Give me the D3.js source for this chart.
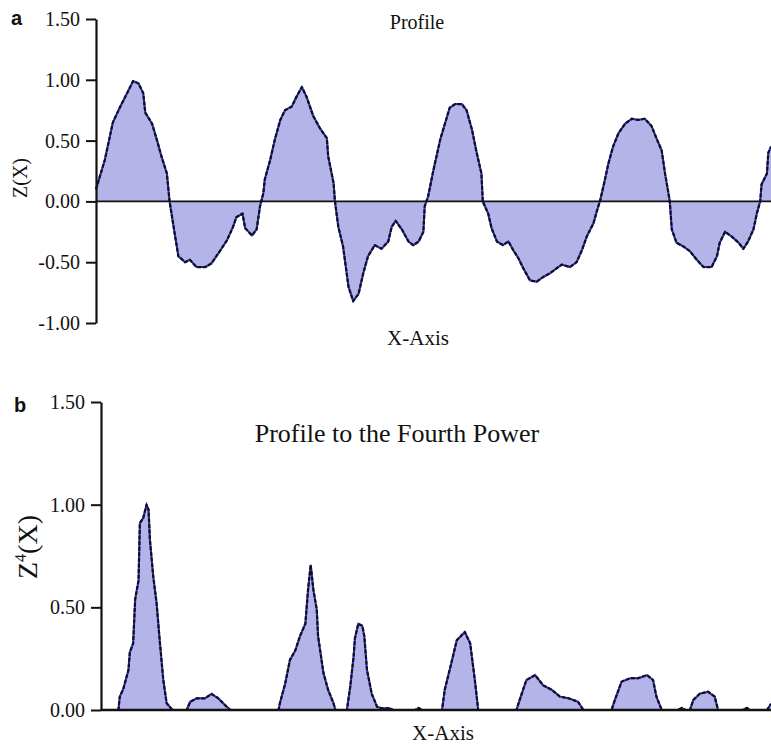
<!DOCTYPE html>
<html>
<head>
<meta charset="utf-8">
<script src="https://cdn.jsdelivr.net/npm/d3@7/dist/d3.min.js"></script>
<style>
  html, body { margin: 0; padding: 0; background: #fff; }
  svg { display: block; }
</style>
</head>
<body>
<svg id="chart" width="771" height="745"></svg>
<script>
// Surface profile Z(X): position along the trace (0–100) and height
const profileX = [0, 1.3, 2.5, 3.6, 4.6, 5.5, 6.3, 7.0, 7.3, 8.3, 9.0, 9.7, 10.5, 10.9, 11.5, 12.2, 13.2, 13.9, 14.9, 16.2, 17.1, 18.1, 19.4, 20.3, 20.8, 21.7, 22.1, 23.1, 23.8, 24.3, 24.8, 25.0, 25.8, 26.5, 27.3, 28.0, 29.0, 29.7, 30.5, 31.2, 32.2, 33.2, 34.2, 34.4, 35.2, 35.4, 35.9, 36.6, 37.4, 38.1, 38.9, 39.6, 40.3, 41.3, 42.3, 43.3, 43.8, 44.4, 45.3, 46.3, 47.0, 47.8, 48.5, 48.7, 49.2, 50.0, 51.0, 51.7, 52.4, 53.2, 54.2, 54.9, 55.7, 56.4, 57.1, 57.3, 58.1, 58.6, 59.4, 60.3, 61.1, 61.8, 62.6, 63.3, 64.3, 65.3, 66.3, 67.3, 68.0, 69.0, 70.2, 71.2, 72.0, 72.7, 73.7, 74.2, 74.7, 75.4, 75.9, 76.6, 77.4, 78.4, 79.4, 80.3, 81.3, 82.3, 83.1, 83.8, 84.3, 84.8, 85.0, 85.3, 86.0, 87.0, 88.0, 89.0, 90.0, 91.2, 92.0, 92.4, 93.2, 94.2, 95.2, 95.9, 96.6, 97.4, 97.9, 98.4, 98.6, 99.4, 99.6, 100];
const profileZ = [0.10, 0.34, 0.65, 0.78, 0.89, 0.99, 0.97, 0.89, 0.73, 0.64, 0.51, 0.37, 0.23, 0.0, -0.21, -0.45, -0.50, -0.48, -0.54, -0.54, -0.51, -0.43, -0.32, -0.21, -0.13, -0.10, -0.22, -0.28, -0.23, -0.04, 0.07, 0.18, 0.34, 0.51, 0.67, 0.75, 0.78, 0.86, 0.94, 0.86, 0.70, 0.60, 0.52, 0.37, 0.15, 0.0, -0.21, -0.37, -0.70, -0.82, -0.76, -0.59, -0.45, -0.36, -0.39, -0.33, -0.21, -0.16, -0.23, -0.33, -0.36, -0.33, -0.25, -0.04, 0.04, 0.26, 0.51, 0.64, 0.77, 0.80, 0.80, 0.75, 0.59, 0.40, 0.23, 0.0, -0.10, -0.22, -0.33, -0.36, -0.33, -0.40, -0.47, -0.55, -0.65, -0.66, -0.62, -0.59, -0.56, -0.52, -0.54, -0.50, -0.40, -0.29, -0.18, -0.08, 0.01, 0.18, 0.31, 0.45, 0.56, 0.64, 0.68, 0.67, 0.68, 0.62, 0.51, 0.42, 0.23, 0.07, 0.0, -0.23, -0.34, -0.37, -0.41, -0.48, -0.54, -0.54, -0.45, -0.34, -0.25, -0.29, -0.34, -0.39, -0.33, -0.23, -0.10, 0.0, 0.14, 0.23, 0.40, 0.45];

// Profile raised to the fourth power, Z^4(X)
const fourthX = [0, 2.6, 2.8, 3.3, 4.1, 4.3, 4.8, 5.1, 5.6, 5.8, 6.3, 6.8, 7.1, 7.3, 7.8, 8.3, 8.8, 9.3, 9.8, 10.6, 10.8, 12.8, 13.3, 14.3, 15.5, 16.5, 17.5, 18.5, 19.3, 26.5, 26.7, 27.5, 28.2, 29.0, 29.7, 30.5, 30.9, 31.3, 31.7, 32.2, 32.4, 33.2, 33.9, 34.7, 35.0, 36.7, 37.2, 37.7, 37.9, 38.4, 39.0, 39.3, 39.7, 40.4, 41.2, 41.9, 43.1, 43.6, 46.9, 47.4, 47.9, 50.9, 51.3, 52.3, 53.1, 54.3, 55.1, 55.8, 56.3, 62.0, 62.8, 63.5, 64.8, 66.0, 67.3, 68.5, 69.8, 71.2, 72.0, 76.2, 76.7, 77.7, 79.0, 80.2, 81.5, 82.4, 82.9, 83.7, 86.1, 86.7, 87.2, 87.9, 88.4, 89.4, 90.6, 91.6, 92.1, 95.8, 96.4, 96.9, 99.4, 100];
const fourthZ = [0, 0, 0.065, 0.10, 0.195, 0.28, 0.325, 0.54, 0.63, 0.91, 0.935, 1.0, 0.975, 0.83, 0.65, 0.52, 0.325, 0.146, 0.033, 0.003, 0, 0, 0.04, 0.057, 0.057, 0.078, 0.057, 0.024, 0, 0, 0.033, 0.13, 0.244, 0.29, 0.36, 0.42, 0.585, 0.707, 0.585, 0.49, 0.36, 0.18, 0.098, 0.033, 0, 0, 0.114, 0.26, 0.35, 0.42, 0.41, 0.36, 0.195, 0.08, 0.016, 0.008, 0.008, 0, 0, 0.01, 0, 0, 0.098, 0.23, 0.34, 0.38, 0.325, 0.146, 0, 0, 0.08, 0.146, 0.17, 0.12, 0.098, 0.065, 0.057, 0.04, 0, 0, 0.049, 0.138, 0.155, 0.155, 0.17, 0.146, 0.065, 0, 0, 0.01, 0, 0, 0.049, 0.08, 0.089, 0.065, 0, 0, 0.01, 0, 0, 0.03];

const topTicks = [-1.0, -0.5, 0.0, 0.5, 1.0, 1.5];
const bottomTicks = [0.0, 0.5, 1.0, 1.5];

const FILL = "#b4b4e8";
const BLUE = "#2b2bd0";
const SERIF = "'Liberation Serif', 'Times New Roman', serif";
const SANS = "'Liberation Sans', Arial, sans-serif";

const svg = d3.select("#chart");
// plain hyphen for negative tick values
const fmt = d3.formatLocale({ decimal: ".", thousands: ",", grouping: [3], currency: ["", ""], minus: "-" }).format(".2f");

function drawTrace(g, xs, ys, x, y) {
  const pts = xs.map((d, i) => [d, ys[i]]);
  const area = d3.area().x(d => x(d[0])).y0(y(0)).y1(d => y(d[1]));
  const line = d3.line().x(d => x(d[0])).y(d => y(d[1]));
  g.append("path").attr("d", area(pts)).attr("fill", FILL);
  g.append("path").attr("d", line(pts)).attr("fill", "none")
    .attr("stroke", BLUE).attr("stroke-width", 2);
  g.append("path").attr("d", line(pts)).attr("fill", "none")
    .attr("stroke", "#111").attr("stroke-width", 2.2)
    .attr("stroke-dasharray", "4,1.6").attr("stroke-linejoin", "round");
}

function styleAxis(g, fs) {
  g.select(".domain").attr("stroke", "#111").attr("stroke-width", 2.2);
  g.selectAll(".tick line").attr("stroke", "#111").attr("stroke-width", 2);
  g.selectAll(".tick text").attr("font-family", SERIF).attr("font-size", fs)
    .attr("fill", "#111");
}

// ---- panel a: profile ----
const xA = d3.scaleLinear().domain([0, 100]).range([96, 771]);
const yA = d3.scaleLinear().domain([-1, 1.5]).range([323, 19]);
const gA = svg.append("g");
drawTrace(gA, profileX, profileZ, xA, yA);
gA.append("line").attr("x1", xA(0)).attr("x2", xA(100))
  .attr("y1", yA(0)).attr("y2", yA(0)).attr("stroke", "#111").attr("stroke-width", 1.6);
const axA = gA.append("g").attr("transform", `translate(${xA(0)},0)`)
  .call(d3.axisLeft(yA).tickValues(topTicks).tickFormat(fmt).tickSize(10).tickSizeOuter(0).tickPadding(6));
styleAxis(axA, 20);

svg.append("text").attr("x", 11).attr("y", 25).attr("font-family", SANS)
  .attr("font-weight", "bold").attr("font-size", 20).attr("fill", "#111").text("a");
svg.append("text").attr("x", 417).attr("y", 29).attr("text-anchor", "middle")
  .attr("font-family", SERIF).attr("font-size", 20).attr("fill", "#111").text("Profile");
svg.append("text").attr("x", 418).attr("y", 345).attr("text-anchor", "middle")
  .attr("font-family", SERIF).attr("font-size", 21).attr("fill", "#111").text("X-Axis");
svg.append("text").attr("transform", "translate(27,178) rotate(-90)")
  .attr("text-anchor", "middle").attr("font-family", SERIF).attr("font-size", 20)
  .attr("fill", "#111").text("Z(X)");

// ---- panel b: fourth power ----
const xB = d3.scaleLinear().domain([0, 100]).range([101, 771]);
const yB = d3.scaleLinear().domain([0, 1.5]).range([710, 402]);
const gB = svg.append("g");
drawTrace(gB, fourthX, fourthZ, xB, yB);
gB.append("line").attr("x1", xB(0)).attr("x2", xB(100))
  .attr("y1", yB(0)).attr("y2", yB(0)).attr("stroke", "#111").attr("stroke-width", 2.4);
const axB = gB.append("g").attr("transform", `translate(${xB(0)},0)`)
  .call(d3.axisLeft(yB).tickValues(bottomTicks).tickFormat(fmt).tickSize(10).tickSizeOuter(0).tickPadding(6));
styleAxis(axB, 20);

svg.append("text").attr("x", 14).attr("y", 412).attr("font-family", SANS)
  .attr("font-weight", "bold").attr("font-size", 20).attr("fill", "#111").text("b");
svg.append("text").attr("x", 397).attr("y", 442).attr("text-anchor", "middle")
  .attr("font-family", SERIF).attr("font-size", 26).attr("fill", "#111")
  .text("Profile to the Fourth Power");
svg.append("text").attr("x", 443).attr("y", 740).attr("text-anchor", "middle")
  .attr("font-family", SERIF).attr("font-size", 21).attr("fill", "#111").text("X-Axis");
const zl = svg.append("text").attr("transform", "translate(37,547) rotate(-90)")
  .attr("text-anchor", "middle").attr("font-family", SERIF).attr("font-size", 28)
  .attr("fill", "#111");
zl.append("tspan").text("Z");
zl.append("tspan").attr("font-size", 16).attr("dy", -11).text("4");
zl.append("tspan").attr("dy", 11).text("(X)");
</script>
</body>
</html>
